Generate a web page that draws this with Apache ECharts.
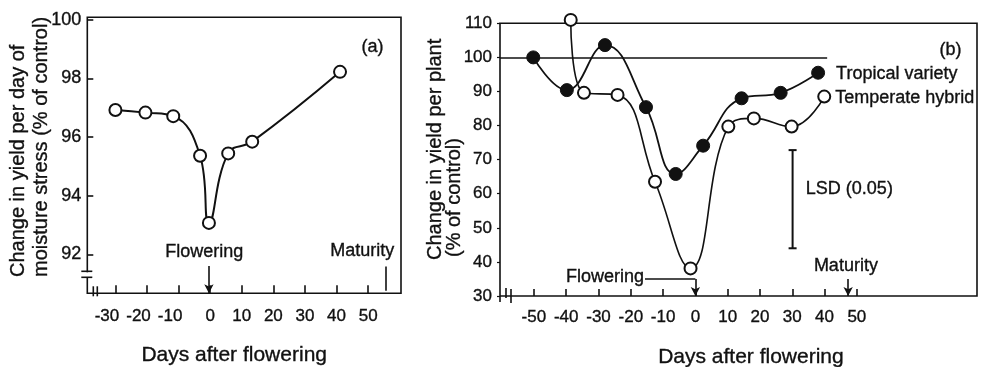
<!DOCTYPE html>
<html>
<head>
<meta charset="utf-8">
<script src="https://cdn.jsdelivr.net/npm/echarts@6/dist/echarts.min.js"></script>
<style>
  html, body { margin: 0; padding: 0; background: #fff; }
  #chart { width: 985px; height: 367px; }
</style>
</head>
<body>
<div id="chart"></div>
<script>
// (a) Change in yield per day of moisture stress, by days after flowering
const daysA  = [-30, -20.5, -11.7, -3.2, -0.4, 5.7, 13.3, 41.1];
const yieldA = [96.92, 96.83, 96.71, 95.36, 93.07, 95.44, 95.84, 98.22];
const ticksAx = [-30, -20, -10, 0, 10, 20, 30, 40, 50];
const ticksAy = [92, 94, 96, 98, 100];

// (b) Change in yield per plant for two maize types
const daysTropical  = [-50.2, -39.8, -28, -15.3, -6.1, 2.4, 14.3, 26.4, 38];
const yieldTropical = [100, 90.4, 103.6, 85.4, 65.8, 74.1, 88, 89.6, 95.5];
const daysTemperate  = [-38.6, -34.5, -24.1, -12.5, -1.5, 10.2, 18.1, 29.8, 39.9];
const yieldTemperate = [111, 89.6, 89, 63.5, 38.1, 79.7, 82.1, 79.7, 88.5];
const ticksBx = [-50, -40, -30, -20, -10, 0, 10, 20, 30, 40, 50];
const ticksBy = [30, 40, 50, 60, 70, 80, 90, 100, 110];
const lsdDay = 30.1;
const lsdRange = [44, 72.8];

// Reference markers
const controlLevel = 100;
const floweringDay = 0;
const maturityDayA = 55.6;
const maturityDayB = 47.3;

const FONT = '"Liberation Sans", Arial, Helvetica, sans-serif';
const INK = '#111';
// slight outline so the lettering reads as heavy as printed type
const HEAVY = { textBorderColor: INK, textBorderWidth: 0.35 };

const zip = (xs, ys) => xs.map((x, i) => [x, ys[i]]);

const chart = echarts.init(document.getElementById('chart'));

const axisText = (size) => Object.assign({ color: INK, fontSize: size, fontFamily: FONT }, HEAVY);

// the negative day labels of panel (a) are set tight together, left of their ticks
const labelA = Object.assign({
  customValues: ticksAx, margin: 15,
  formatter: (v) => (v < 0 ? '{n|' + v + '}' : String(v)),
  rich: { n: Object.assign({ padding: [0, 17, 0, 0] }, axisText(17)) }
}, axisText(17));

chart.setOption({
  animation: false,
  backgroundColor: '#fff',
  grid: [
    { left: 87.3, top: 17.3, width: 313.7, height: 276, show: true,
      borderColor: INK, borderWidth: 1.6, backgroundColor: 'transparent' },
    { left: 500, top: 23.3, width: 477, height: 272.7, show: true,
      borderColor: INK, borderWidth: 1.6, backgroundColor: 'transparent' }
  ],
  xAxis: [
    { gridIndex: 0, type: 'value', min: -38.9, max: 60.4,
      axisLine: { show: false, onZero: false }, splitLine: { show: false },
      axisTick: { show: true, inside: true, length: 8, customValues: ticksAx,
                  lineStyle: { color: INK, width: 1.6 } },
      axisLabel: labelA },
    { gridIndex: 1, type: 'value', min: -60.5, max: 87.2,
      axisLine: { show: false, onZero: false }, splitLine: { show: false },
      axisTick: { show: true, inside: true, length: 7, customValues: ticksBx,
                  lineStyle: { color: INK, width: 1.6 } },
      axisLabel: Object.assign({ customValues: ticksBx, margin: 13 }, axisText(17)) }
  ],
  yAxis: [
    { gridIndex: 0, type: 'value', min: 90.67, max: 100.08,
      axisLine: { show: false, onZero: false }, splitLine: { show: false },
      axisTick: { show: true, inside: true, length: 6, customValues: ticksAy,
                  lineStyle: { color: INK, width: 1.6 } },
      axisLabel: Object.assign({ customValues: ticksAy, margin: 6 }, axisText(18)) },
    { gridIndex: 1, type: 'value', min: 30, max: 110, interval: 10,
      axisLine: { show: false, onZero: false }, splitLine: { show: false },
      axisTick: { show: true, inside: false, length: 3, customValues: ticksBy,
                  lineStyle: { color: INK, width: 1.2 } },
      axisLabel: Object.assign({ customValues: ticksBy, margin: 8 }, axisText(17)) }
  ],
  series: [
    {
      name: 'Moisture stress', type: 'line', xAxisIndex: 0, yAxisIndex: 0,
      data: zip(daysA, yieldA), smooth: 0.45, clip: false,
      symbol: 'circle', symbolSize: 12,
      itemStyle: { color: '#fff', borderColor: INK, borderWidth: 2 },
      lineStyle: { color: INK, width: 2 },
      markLine: {
        silent: true, animation: false, label: { show: false },
        lineStyle: { color: INK, width: 1.6, type: 'solid' },
        data: [
          [{ coord: [floweringDay - 0.4, 91.6], symbol: 'none' },
           { coord: [floweringDay - 0.4, 90.67], symbol: 'arrow', symbolSize: [7, 9] }],
          [{ coord: [maturityDayA, 91.58], symbol: 'none' },
           { coord: [maturityDayA, 90.76], symbol: 'none' }]
        ]
      }
    },
    {
      name: 'Tropical variety', type: 'line', xAxisIndex: 1, yAxisIndex: 1,
      data: zip(daysTropical, yieldTropical), smooth: 0.45, clip: false,
      symbol: 'circle', symbolSize: 13, z: 3,
      itemStyle: { color: INK, borderColor: INK, borderWidth: 1 },
      lineStyle: { color: INK, width: 1.8 },
      endLabel: Object.assign({ show: true, formatter: 'Tropical variety', distance: 18,
                  color: INK, fontSize: 18, fontFamily: FONT, offset: [0, 1] }, HEAVY),
      markLine: {
        silent: true, animation: false, label: { show: false }, symbol: 'none',
        lineStyle: { color: INK, width: 1.6, type: 'solid' },
        data: [
          [{ coord: [-60.5, controlLevel] }, { coord: [40.8, controlLevel] }]
        ]
      }
    },
    {
      name: 'Temperate hybrid', type: 'line', xAxisIndex: 1, yAxisIndex: 1,
      data: zip(daysTemperate, yieldTemperate), smooth: 0.45, clip: false,
      symbol: 'circle', symbolSize: 12, z: 4,
      itemStyle: { color: '#fff', borderColor: INK, borderWidth: 2 },
      lineStyle: { color: INK, width: 1.6 },
      endLabel: Object.assign({ show: true, formatter: 'Temperate hybrid', distance: 11,
                  color: INK, fontSize: 18, fontFamily: FONT, offset: [0, 1] }, HEAVY),
      markLine: {
        silent: true, animation: false, label: { show: false },
        lineStyle: { color: INK, width: 1.6, type: 'solid' },
        data: [
          [{ coord: [-15.6, 35], symbol: 'none' },
           { coord: [floweringDay, 35], symbol: 'none' }],
          [{ coord: [floweringDay, 35], symbol: 'none' },
           { coord: [floweringDay, 30], symbol: 'arrow', symbolSize: [7, 9] }],
          [{ coord: [maturityDayB, 35], symbol: 'none' },
           { coord: [maturityDayB, 30], symbol: 'arrow', symbolSize: [7, 9] }]
        ]
      }
    },
    {
      name: 'LSD (0.05)', type: 'custom', xAxisIndex: 1, yAxisIndex: 1,
      data: [[lsdDay, lsdRange[0], lsdRange[1]]],
      encode: { x: 0, y: [1, 2] },
      renderItem: (params, api) => {
        const lo = api.coord([api.value(0), api.value(1)]);
        const hi = api.coord([api.value(0), api.value(2)]);
        const cap = 4;
        const st = { stroke: INK, lineWidth: 2 };
        return { type: 'group', children: [
          { type: 'line', shape: { x1: hi[0], y1: hi[1], x2: lo[0], y2: lo[1] }, style: st },
          { type: 'line', shape: { x1: hi[0] - cap, y1: hi[1], x2: hi[0] + cap, y2: hi[1] }, style: st },
          { type: 'line', shape: { x1: lo[0] - cap, y1: lo[1], x2: lo[0] + cap, y2: lo[1] }, style: st }
        ] };
      }
    }
  ]
});

// Annotation text and axis-break symbols, placed through the axes
const P = (g, d, v) => chart.convertToPixel({ gridIndex: g }, [d, v]);
const txt = (pos, text, size, align) => ({
  type: 'text', x: pos[0], y: pos[1], silent: true,
  style: { text, fill: INK, fontSize: size, fontFamily: FONT,
           align: align || 'center', verticalAlign: 'middle',
           stroke: INK, lineWidth: HEAVY.textBorderWidth }
});
const seg = (x1, y1, x2, y2, w) => ({
  type: 'line', silent: true,
  shape: { x1, y1, x2, y2 }, style: { stroke: INK, lineWidth: w || 1.6 }
});

const cA = P(0, -38.9, 90.67);
const cB = P(1, -60.5, 30);

const rotTitle = (x, y, text) => ({
  type: 'text', x, y, rotation: Math.PI / 2, silent: true,
  style: { text, fill: INK, fontSize: 20, fontFamily: FONT,
           align: 'left', verticalAlign: 'middle',
           stroke: INK, lineWidth: HEAVY.textBorderWidth }
});

chart.setOption({
  graphic: [
    // panel (a)
    txt(P(0, 51.4, 99.07), '(a)', 18),
    txt(P(0, -1.9, 92.09), 'Flowering', 18),
    txt(P(0, 48.1, 92.12), 'Maturity', 18),
    txt(P(0, 7.6, 88.56), 'Days after flowering', 21),
    rotTitle(18.5, 277, 'Change in yield per day of'),
    rotTitle(41, 277, 'moisture stress (% of control)'),
    { type: 'rect', silent: true, shape: { x: cA[0] - 3, y: cA[1] - 21, width: 6, height: 5 },
      style: { fill: '#fff' } },
    seg(cA[0] - 6, cA[1] - 22, cA[0] + 5, cA[1] - 22),
    seg(cA[0] - 6, cA[1] - 16, cA[0] + 5, cA[1] - 16),
    seg(cA[0] + 6, cA[1] - 7, cA[0] + 6, cA[1] + 3),
    seg(cA[0] + 10, cA[1] - 7, cA[0] + 10, cA[1] + 3),
    // panel (b)
    txt(P(1, 79.0, 102.3), '(b)', 18),
    txt(P(1, -28.0, 35.6), 'Flowering', 18),
    txt(P(1, 46.6, 38.9), 'Maturity', 18),
    txt(P(1, 34.2, 61.4), 'LSD (0.05)', 18, 'left'),
    txt(P(1, 17.2, 12.1), 'Days after flowering', 21),
    rotTitle(435, 260, 'Change in yield per plant'),
    rotTitle(454, 257, '(% of control)'),
    seg(cB[0], cB[1], cB[0], cB[1] + 6),
    seg(cB[0] + 6, cB[1] - 8, cB[0] + 6, cB[1] + 2),
    seg(cB[0] + 11, cB[1] - 7, cB[0] + 11, cB[1] + 7)
  ]
});
</script>
</body>
</html>
